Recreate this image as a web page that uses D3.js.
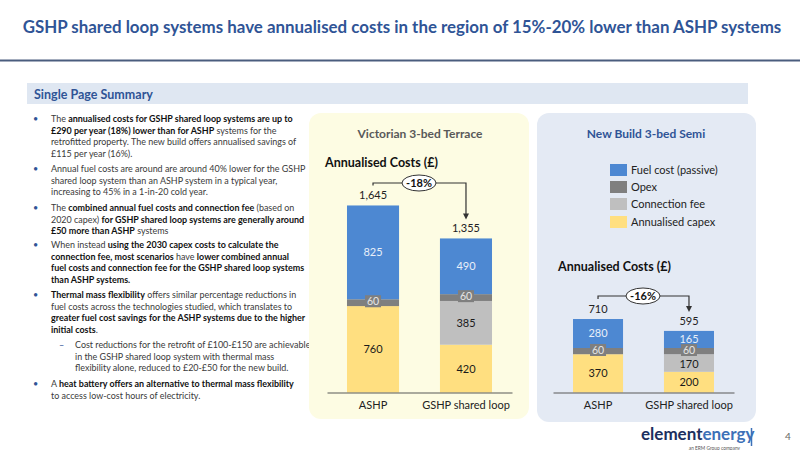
<!DOCTYPE html>
<html><head><meta charset="utf-8">
<script src="https://cdn.jsdelivr.net/npm/d3@7"></script>
<style>
html,body{margin:0;padding:0;background:#fff;}
svg{display:block;font-family:Lato,"Noto Sans",sans-serif;}
</style></head>
<body>
<svg id="c" width="800" height="450"></svg>
<script>
// ---------- DATA ----------
const categories = ["ASHP", "GSHP shared loop"];
const seriesNames = ["Annualised capex", "Connection fee", "Opex", "Fuel cost (passive)"];
const legendOrder = ["Fuel cost (passive)", "Opex", "Connection fee", "Annualised capex"];
// Victorian 3-bed Terrace
const vicCapex = [760, 420];
const vicConnection = [0, 385];
const vicOpex = [60, 60];
const vicFuel = [825, 490];
const vicTotals = ["1,645", "1,355"];
const vicChange = "-18%";
// New Build 3-bed Semi
const nbCapex = [370, 200];
const nbConnection = [0, 170];
const nbOpex = [60, 60];
const nbFuel = [280, 165];
const nbTotals = ["710", "595"];
const nbChange = "-16%";

const colors = {
  "Annualised capex": "#ffdf80",
  "Connection fee": "#bfbfbf",
  "Opex": "#7f7f7f",
  "Fuel cost (passive)": "#4d88d2"
};
const labelColors = {
  "Annualised capex": "#1a1a1a",
  "Connection fee": "#1a1a1a",
  "Opex": "#e6e6e6",
  "Fuel cost (passive)": "#e8eff9"
};

const bullets = [
  {indent:0, lines:[
    [["The ",0],["annualised costs for GSHP shared loop systems are up to",1]],
    [["£290 per year (18%) lower than for ASHP",1],[" systems for the",0]],
    [["retrofitted property. The new build offers annualised savings of",0]],
    [["£115 per year (16%).",0]]]},
  {indent:0, lines:[
    [["Annual fuel costs are around are around 40% lower for the GSHP",0]],
    [["shared loop system than an ASHP system in a typical year,",0]],
    [["increasing to 45% in a 1-in-20 cold year.",0]]]},
  {indent:0, lines:[
    [["The ",0],["combined annual fuel costs and connection fee",1],[" (based on",0]],
    [["2020 capex) ",0],["for GSHP shared loop systems are generally around",1]],
    [["£50 more than ASHP",1],[" systems",0]]]},
  {indent:0, lines:[
    [["When instead ",0],["using the 2030 capex costs to calculate the",1]],
    [["connection fee, most scenarios",1],[" have ",0],["lower combined annual",1]],
    [["fuel costs and connection fee for the GSHP shared loop systems",1]],
    [["than ASHP systems.",1]]]},
  {indent:0, lines:[
    [["Thermal mass flexibility",1],[" offers similar percentage reductions in",0]],
    [["fuel costs across the technologies studied, which translates to",0]],
    [["greater fuel cost savings for the ASHP systems due to the higher",1]],
    [["initial costs",1],[".",0]]]},
  {indent:1, lines:[
    [["Cost reductions for the retrofit of £100-£150 are achievable",0]],
    [["in the GSHP shared loop system with thermal mass",0]],
    [["flexibility alone, reduced to £20-£50 for the new build.",0]]]},
  {indent:0, lines:[
    [["A ",0],["heat battery offers an alternative to thermal mass flexibility",1]],
    [["to access low-cost hours of electricity.",0]]]}
];
const bulletStartY = [122, 172, 211, 248, 298, 348, 387];

// ---------- DRAW ----------
const svg = d3.select("#c");
const navy = "#2f5496";

// Title
svg.append("text").attr("x", 402).attr("y", 33).attr("text-anchor", "middle")
  .attr("font-size", 16.9).attr("font-weight", 700).attr("fill", navy)
  .text("GSHP shared loop systems have annualised costs in the region of 15%-20% lower than ASHP systems");
svg.append("line").attr("x1", 0).attr("x2", 800).attr("y1", 60.5).attr("y2", 60.5)
  .attr("stroke", "#4a5d7e").attr("stroke-width", 2);

// Summary band
svg.append("rect").attr("x", 27).attr("y", 83).attr("width", 721).attr("height", 21).attr("fill", "#dfe7f2");
svg.append("text").attr("x", 34).attr("y", 98.5).attr("font-size", 12.5).attr("font-weight", 700)
  .attr("fill", navy).text("Single Page Summary");

// Bullets
const bg = svg.append("g").attr("font-size", 8.95);
bullets.forEach((b, i) => {
  const x0 = b.indent ? 75 : 51;
  const y0 = bulletStartY[i];
  bg.append("text").attr("x", b.indent ? 59 : 33).attr("y", y0)
    .attr("fill", navy).attr("font-size", 9).text(b.indent ? "–" : "•");
  b.lines.forEach((ln, j) => {
    const t = bg.append("text").attr("x", x0).attr("y", y0 + j * 11.6);
    ln.forEach(([s, bold]) => {
      t.append("tspan").attr("font-weight", bold ? 700 : 400)
        .attr("fill", bold ? "#111" : "#3a3a3a").text(s);
    });
  });
});

// Panels
svg.append("rect").attr("x", 309).attr("y", 113).attr("width", 220).attr("height", 306)
  .attr("rx", 12).attr("fill", "#fdfce3");
svg.append("rect").attr("x", 537).attr("y", 113).attr("width", 219).attr("height", 309)
  .attr("rx", 12).attr("fill", "#e4eaf4");

svg.append("text").attr("x", 420).attr("y", 138).attr("text-anchor", "middle")
  .attr("font-size", 12).attr("font-weight", 700).attr("fill", "#595959").text("Victorian 3-bed Terrace");
svg.append("text").attr("x", 646).attr("y", 138).attr("text-anchor", "middle")
  .attr("font-size", 12).attr("font-weight", 700).attr("fill", navy).text("New Build 3-bed Semi");

// Legend
const lg = svg.append("g");
legendOrder.forEach((name, i) => {
  const cy = [170, 187, 204, 222][i];
  lg.append("rect").attr("x", 610).attr("y", cy - 6).attr("width", 17).attr("height", 12).attr("fill", colors[name]);
  lg.append("text").attr("x", 631).attr("y", cy + 4).attr("font-size", 11).attr("fill", "#222").text(name);
});

function drawChart(opt) {
  const g = svg.append("g");
  g.append("text").attr("x", opt.titleX).attr("y", opt.titleY).attr("font-size", 12.5)
    .attr("font-weight", 700).attr("fill", "#111").text("Annualised Costs (£)");

  const x = d3.scaleBand().domain(categories).range(opt.xRange)
    .paddingInner(opt.pi).paddingOuter(opt.po);
  const y = d3.scaleLinear().domain([0, opt.yMax]).range([opt.base, opt.yTop]);

  const rows = categories.map((c, i) => ({
    cat: c,
    "Annualised capex": opt.data.capex[i],
    "Connection fee": opt.data.connection[i],
    "Opex": opt.data.opex[i],
    "Fuel cost (passive)": opt.data.fuel[i]
  }));
  const stacked = d3.stack().keys(seriesNames)(rows);

  stacked.forEach(layer => {
    const key = layer.key;
    layer.forEach(d => {
      if (d[1] - d[0] <= 0) return;
      g.append("rect").attr("x", x(d.data.cat)).attr("width", x.bandwidth())
        .attr("y", y(d[1])).attr("height", y(d[0]) - y(d[1])).attr("fill", colors[key]);
    });
  });
  // labels
  stacked.forEach(layer => {
    const key = layer.key;
    layer.forEach(d => {
      const v = d[1] - d[0];
      if (v <= 0) return;
      const cx = x(d.data.cat) + x.bandwidth() / 2;
      let cy = (y(d[0]) + y(d[1])) / 2;
      let fs = 11;
      if (key === "Opex") {
        cy = y(d[1]) + 2;
        fs = 10.5;
        g.append("rect").attr("x", cx - 8).attr("y", cy - 6).attr("width", 16).attr("height", 12)
          .attr("fill", colors.Opex);
      }
      if (key === "Connection fee" && opt.small) cy += 1;
      g.append("text").attr("x", cx).attr("y", cy).attr("dy", "0.36em").attr("text-anchor", "middle")
        .attr("font-size", fs).attr("fill", labelColors[key]).text(v);
    });
  });
  // totals
  categories.forEach((c, i) => {
    const tot = seriesNames.reduce((s, k) => s + rows[i][k], 0);
    g.append("text").attr("x", x(c) + x.bandwidth() / 2).attr("y", y(tot) - 6)
      .attr("text-anchor", "middle").attr("font-size", 11).attr("fill", "#222").text(opt.totals[i]);
  });
  // axis
  const ax = g.append("g").attr("transform", `translate(0,${opt.base})`)
    .call(d3.axisBottom(x).tickSize(0).tickSizeOuter(0).tickPadding(9));
  ax.select(".domain").attr("stroke", "#595959").attr("stroke-width", 1.2);
  ax.selectAll("text").attr("font-size", 11).attr("fill", "#222").attr("font-family", "Lato,'Noto Sans',sans-serif");

  // change arrow
  const x1 = x(categories[0]) + x.bandwidth() / 2;
  const x2 = x(categories[1]) + x.bandwidth() / 2;
  const t0 = seriesNames.reduce((s, k) => s + rows[0][k], 0);
  const t1 = seriesNames.reduce((s, k) => s + rows[1][k], 0);
  const ay = opt.arrowY;
  g.append("path").attr("d", `M${x1},${y(t0) - 20}V${ay}H${x2}V${y(t1) - 24}`)
    .attr("fill", "none").attr("stroke", "#333").attr("stroke-width", 1.2);
  g.append("path").attr("d", `M${x2 - 3},${y(t1) - 25}L${x2 + 3},${y(t1) - 25}L${x2},${y(t1) - 19}Z`)
    .attr("fill", "#333");
  const ex = (x1 + x2) / 2 - 0.5;
  g.append("ellipse").attr("cx", ex).attr("cy", ay).attr("rx", 17).attr("ry", 8)
    .attr("fill", "#fff").attr("stroke", "#333").attr("stroke-width", 1);
  g.append("text").attr("x", ex).attr("y", ay).attr("dy", "0.36em").attr("text-anchor", "middle")
    .attr("font-size", 11).attr("font-weight", 700).attr("fill", "#111").text(opt.change);
}

drawChart({
  titleX: 325, titleY: 167, xRange: [327, 512], pi: 0.44, po: 0.215,
  yMax: 1800, base: 392.5, yTop: 392.5 - 1800 * 0.1137, arrowY: 183,
  data: {capex: vicCapex, connection: vicConnection, opex: vicOpex, fuel: vicFuel},
  totals: vicTotals, change: vicChange, small: false
});
drawChart({
  titleX: 558, titleY: 271, xRange: [553, 734], pi: 0.45, po: 0.22,
  yMax: 800, base: 392.5, yTop: 392.5 - 800 * 0.1035, arrowY: 296,
  data: {capex: nbCapex, connection: nbConnection, opex: nbOpex, fuel: nbFuel},
  totals: nbTotals, change: nbChange, small: true
});

// Footer logo
const lt = svg.append("text").attr("x", 641).attr("y", 440).attr("font-size", 17).attr("font-weight", 700);
lt.append("tspan").attr("fill", "#1c2f5e").text("element");
lt.append("tspan").attr("fill", "#3d71b8").text("energy");
svg.append("line").attr("x1", 751.5).attr("x2", 751.5).attr("y1", 428).attr("y2", 446)
  .attr("stroke", "#3d71b8").attr("stroke-width", 1.5);
svg.append("text").attr("x", 740).attr("y", 449.5).attr("text-anchor", "end").attr("font-size", 4.8)
  .attr("fill", "#555").text("an ERM Group company");
svg.append("text").attr("x", 788).attr("y", 440).attr("text-anchor", "middle").attr("font-size", 10)
  .attr("fill", "#666").text("4");
</script>
</body></html>
